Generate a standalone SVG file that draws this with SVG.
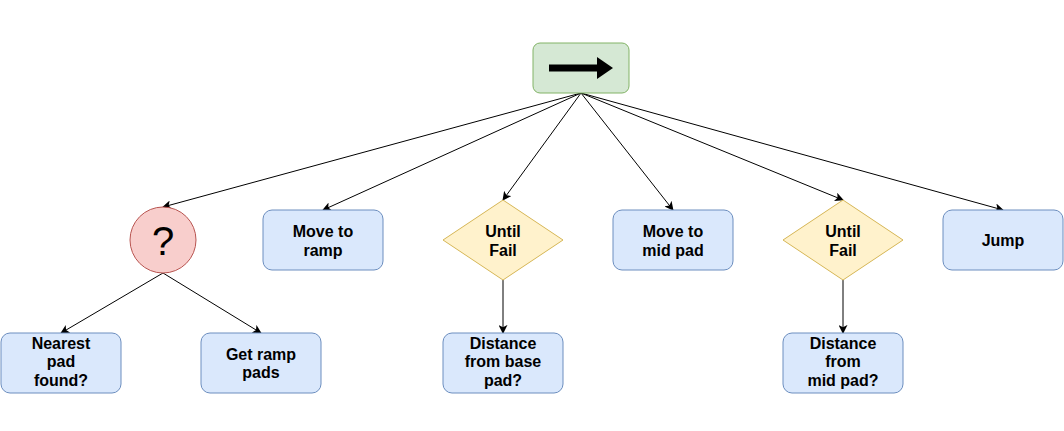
<svg xmlns="http://www.w3.org/2000/svg" width="1064" height="431" viewBox="0 0 1064 431">
<style>
.act{fill:#dae8fc;stroke:#6c8ebf;stroke-width:1}
.dec{fill:#fff2cc;stroke:#d6b656;stroke-width:1}
.lbl{font-family:"Liberation Sans",Arial,sans-serif;font-size:16px;font-weight:bold;fill:#000;text-anchor:middle}
.edge{stroke:#000;stroke-width:1;fill:none;marker-end:url(#arr)}
</style>
<defs>
<marker id="arr" viewBox="0 0 10 10" refX="9" refY="5" markerWidth="9" markerHeight="9" markerUnits="userSpaceOnUse" orient="auto">
<path d="M0,0 L10,5 L0,10 L2.5,5 Z" fill="#000"/>
</marker>
</defs>
<rect width="1064" height="431" fill="#fff"/>
<g id="connectors">
<line class="edge" x1="581" y1="93" x2="163" y2="207"/>
<line class="edge" x1="581" y1="93" x2="323" y2="210"/>
<line class="edge" x1="581" y1="93" x2="503" y2="200"/>
<line class="edge" x1="581" y1="93" x2="673" y2="210"/>
<line class="edge" x1="581" y1="93" x2="843" y2="200"/>
<line class="edge" x1="581" y1="93" x2="1003" y2="210"/>
<line class="edge" x1="163" y1="273" x2="61" y2="333"/>
<line class="edge" x1="163" y1="273" x2="261" y2="333"/>
<line class="edge" x1="503" y1="280" x2="503" y2="333"/>
<line class="edge" x1="843" y1="280" x2="843" y2="333"/>
</g>
<g id="sequence">
<rect x="533" y="43" width="96" height="50" rx="7" fill="#d5e8d4" stroke="#82b366"/>
<path d="M549,64.5 L597,64.5 L597,57 L613,68 L597,79 L597,71.5 L549,71.5 Z" fill="#000"/>
</g>
<g id="selector">
<circle cx="163" cy="240" r="33" fill="#f8cecc" stroke="#b85450"/>
<text x="163" y="255" font-family="'Liberation Sans',Arial,sans-serif" font-size="40" text-anchor="middle">?</text>
</g>
<g id="move-to-ramp">
<rect class="act" x="263" y="210" width="120" height="60" rx="9"/>
<text class="lbl" x="323" y="237">Move to</text>
<text class="lbl" x="323" y="256">ramp</text>
</g>
<g id="until-fail-1">
<path class="dec" d="M503,200 L563,240 L503,280 L443,240 Z"/>
<text class="lbl" x="503" y="237">Until</text>
<text class="lbl" x="503" y="256">Fail</text>
</g>
<g id="move-to-mid-pad">
<rect class="act" x="613" y="210" width="120" height="60" rx="9"/>
<text class="lbl" x="673" y="237">Move to</text>
<text class="lbl" x="673" y="256">mid pad</text>
</g>
<g id="until-fail-2">
<path class="dec" d="M843,200 L903,240 L843,280 L783,240 Z"/>
<text class="lbl" x="843" y="237">Until</text>
<text class="lbl" x="843" y="256">Fail</text>
</g>
<g id="jump">
<rect class="act" x="943" y="210" width="120" height="60" rx="9"/>
<text class="lbl" x="1003" y="246">Jump</text>
</g>
<g id="nearest-pad-found">
<rect class="act" x="1" y="333" width="120" height="60" rx="9"/>
<text class="lbl" x="61" y="348.5">Nearest</text>
<text class="lbl" x="61" y="367.3">pad</text>
<text class="lbl" x="61" y="386">found?</text>
</g>
<g id="get-ramp-pads">
<rect class="act" x="201" y="333" width="120" height="60" rx="9"/>
<text class="lbl" x="261" y="359.7">Get ramp</text>
<text class="lbl" x="261" y="378.3">pads</text>
</g>
<g id="distance-from-base-pad">
<rect class="act" x="443" y="333" width="120" height="60" rx="9"/>
<text class="lbl" x="503" y="348.5">Distance</text>
<text class="lbl" x="503" y="367.3">from base</text>
<text class="lbl" x="503" y="386">pad?</text>
</g>
<g id="distance-from-mid-pad">
<rect class="act" x="783" y="333" width="120" height="60" rx="9"/>
<text class="lbl" x="843" y="348.5">Distance</text>
<text class="lbl" x="843" y="367.3">from</text>
<text class="lbl" x="843" y="386">mid pad?</text>
</g>
</svg>
